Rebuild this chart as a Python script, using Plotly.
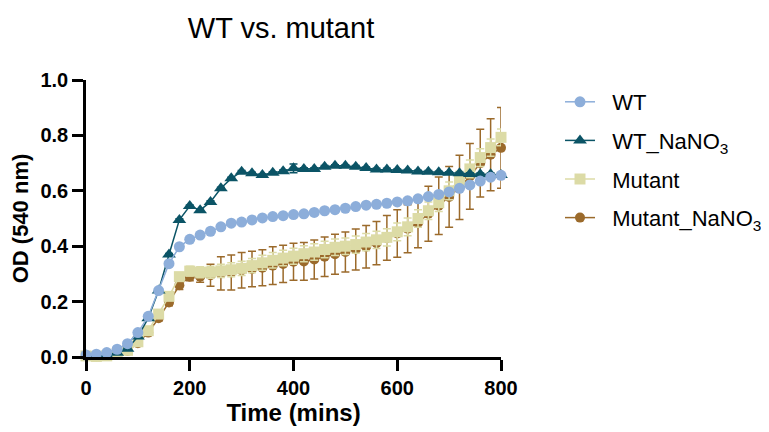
import plotly.graph_objects as go

time = list(range(0, 801, 20))

wt = [0.007, 0.010, 0.016, 0.028, 0.048, 0.088, 0.147, 0.240, 0.337, 0.398,
      0.425, 0.440, 0.454, 0.470, 0.483, 0.487, 0.495, 0.502, 0.507, 0.510,
      0.514, 0.517, 0.522, 0.528, 0.532, 0.537, 0.543, 0.548, 0.551, 0.555,
      0.560, 0.564, 0.571, 0.579, 0.587, 0.596, 0.609, 0.621, 0.635, 0.649, 0.656]

wt_nano3 = [0.005, 0.003, 0.006, 0.015, 0.030, 0.074, 0.140, 0.240, 0.370, 0.495,
            0.545, 0.530, 0.560, 0.609, 0.645, 0.669, 0.663, 0.657, 0.665, 0.671,
            0.681, 0.679, 0.679, 0.687, 0.690, 0.690, 0.687, 0.682, 0.677, 0.677,
            0.675, 0.673, 0.670, 0.669, 0.667, 0.665, 0.663, 0.661, 0.660, 0.660, 0.657]
wt_nano3_err = [0.004] * 20 + [0.016] + [0.004] * 20

mutant = [0.004, 0.002, 0.004, 0.012, 0.024, 0.055, 0.095, 0.155, 0.219, 0.290,
          0.310, 0.306, 0.306, 0.311, 0.315, 0.320, 0.330, 0.340, 0.349, 0.357,
          0.364, 0.373, 0.379, 0.388, 0.396, 0.400, 0.406, 0.415, 0.423, 0.432,
          0.452, 0.470, 0.500, 0.528, 0.557, 0.600, 0.639, 0.679, 0.720, 0.756, 0.793]
mutant_err = [0.003, 0.003, 0.003, 0.004, 0.005, 0.006, 0.008, 0.010, 0.012, 0.015,
              0.018, 0.020, 0.022, 0.024, 0.025, 0.026, 0.026, 0.027, 0.028, 0.028,
              0.029, 0.029, 0.030, 0.030, 0.030, 0.030, 0.031, 0.031, 0.031, 0.031,
              0.032, 0.032, 0.032, 0.032, 0.032, 0.032, 0.032, 0.032, 0.032, 0.031, 0.030]

mutant_nano3 = [0.005, 0.003, 0.006, 0.012, 0.022, 0.050, 0.088, 0.140, 0.197, 0.259,
                0.290, 0.290, 0.295, 0.302, 0.305, 0.313, 0.318, 0.322, 0.330, 0.336,
                0.344, 0.345, 0.352, 0.362, 0.371, 0.379, 0.388, 0.398, 0.411, 0.430,
                0.446, 0.463, 0.484, 0.517, 0.546, 0.578, 0.612, 0.652, 0.700, 0.730, 0.755]
mutant_nano3_err = [0.003, 0.003, 0.003, 0.004, 0.005, 0.006, 0.008, 0.010, 0.012, 0.015,
                    0.015, 0.020, 0.040, 0.060, 0.063, 0.064, 0.064, 0.065, 0.068, 0.067,
                    0.067, 0.068, 0.070, 0.071, 0.072, 0.072, 0.074, 0.077, 0.078, 0.081,
                    0.086, 0.087, 0.090, 0.099, 0.104, 0.110, 0.116, 0.119, 0.122, 0.130, 0.146]

C_WT = "#8DAEDA"
C_WTN = "#0B5466"
C_MUT = "#DCDBA6"
C_MUTN = "#9B6A2B"

SP = "\u00a0\u00a0"

fig = go.Figure()

fig.add_trace(go.Scatter(
    x=time, y=mutant_nano3, name=SP + "Mutant_NaNO<sub>3</sub>", mode="lines+markers",
    line=dict(color=C_MUTN, width=1.5),
    marker=dict(symbol="circle", size=10, color=C_MUTN),
    error_y=dict(type="data", array=mutant_nano3_err, color=C_MUTN, thickness=1.5, width=4),
    legendrank=4, legendgroup="d", cliponaxis=False))

fig.add_trace(go.Scatter(
    x=time, y=mutant, name=SP + "Mutant", mode="lines+markers",
    line=dict(color=C_MUT, width=1.5),
    marker=dict(symbol="square", size=11, color=C_MUT),
    error_y=dict(type="data", array=mutant_err, color=C_MUT, thickness=1.5, width=4),
    legendrank=3, legendgroup="c", cliponaxis=False))

fig.add_trace(go.Scatter(
    x=time, y=wt_nano3, name=SP + "WT_NaNO<sub>3</sub>", mode="lines+markers",
    line=dict(color=C_WTN, width=1.5),
    marker=dict(symbol="triangle-up", size=12, color=C_WTN),
    error_y=dict(type="data", array=wt_nano3_err, color=C_WTN, thickness=1.5, width=4),
    legendrank=2, legendgroup="b", cliponaxis=False))

fig.add_trace(go.Scatter(
    x=time, y=wt, name=SP + "WT", mode="lines+markers",
    line=dict(color=C_WT, width=1.5),
    marker=dict(symbol="circle", size=11, color=C_WT),
    legendrank=1, legendgroup="a", cliponaxis=False))

FAM = "Liberation Sans, Arial, sans-serif"
tick_font = dict(family=FAM, size=20, color="black", weight="bold")

fig.update_layout(
    width=769, height=424,
    margin=dict(l=78, r=276, t=72, b=75),
    paper_bgcolor="white", plot_bgcolor="white",
    title=dict(text="WT vs. mutant", x=273 / 769, xanchor="center", y=0.953, yanchor="middle",
               font=dict(family=FAM, size=29, color="black")),
    xaxis=dict(range=[0, 800], tickvals=[0, 200, 400, 600, 800], showgrid=False, zeroline=False,
               showline=True, linecolor="black", linewidth=2.5, ticks="outside", ticklen=11,
               tickwidth=2.5, tickcolor="black", tickfont=tick_font, automargin=False,
               title=dict(text="Time (mins)", font=dict(family=FAM, size=24, color="black", weight="bold"),
                          standoff=6)),
    yaxis=dict(range=[0, 1], tickvals=[0, 0.2, 0.4, 0.6, 0.8, 1.0], tickformat=".1f",
               showgrid=False, zeroline=False, showline=True, linecolor="black", linewidth=2.5,
               ticks="outside", ticklen=11, tickwidth=2.5, tickcolor="black", tickfont=tick_font,
               automargin=False,
               title=dict(text="OD (540 nm)", font=dict(family=FAM, size=22, color="black", weight="bold"),
                          standoff=14)),
    legend=dict(xref="container", yref="container", x=552 / 769, y=1 - 73 / 424,
                xanchor="left", yanchor="top", tracegroupgap=7,
                font=dict(family=FAM, size=22, color="black"),
                itemwidth=30, bgcolor="rgba(0,0,0,0)"),
    showlegend=True,
)

fig.write_html("out.html")
